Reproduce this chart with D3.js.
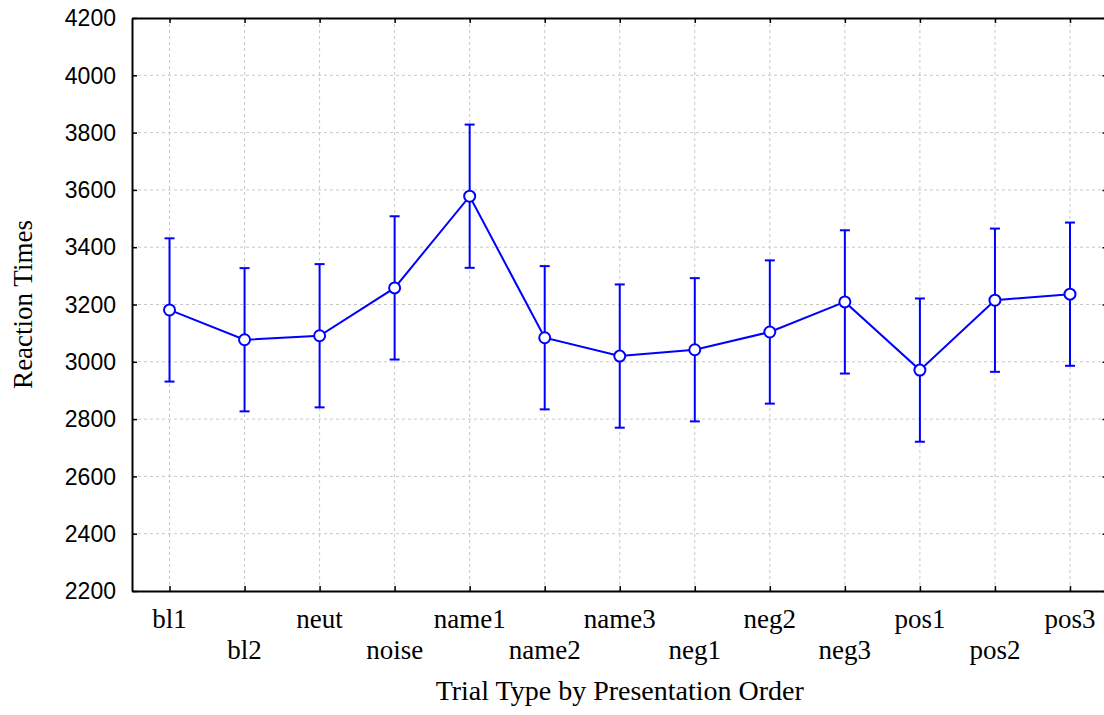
<!DOCTYPE html>
<html>
<head>
<meta charset="utf-8">
<script src="https://cdn.jsdelivr.net/npm/d3@7"></script>
<style>
  html, body { margin: 0; padding: 0; background: #fff; overflow: hidden; }
  .grid line { stroke: #c8c8c8; stroke-dasharray: 3,3; stroke-width: 1; }
</style>
</head>
<body>
<svg id="chart" width="1104" height="715"></svg>
<script>
// chart data
var categories = ["bl1", "bl2", "neut", "noise", "name1", "name2", "name3",
                  "neg1", "neg2", "neg3", "pos1", "pos2", "pos3"];
var means = [3181, 3077, 3091, 3258, 3578, 3084, 3020, 3042, 3104, 3209, 2971, 3215, 3236];
var errors = [250, 250, 250, 250, 250, 250, 250, 250, 250, 250, 250, 250, 250];
var yTicks = [2200, 2400, 2600, 2800, 3000, 3200, 3400, 3600, 3800, 4000, 4200];

var svg = d3.select("#chart");

// plot box (right edge runs just past the window, like the original)
var plotLeft = 132, plotRight = 1107.5, plotTop = 18, plotBottom = 591;

var x = d3.scalePoint()
  .domain(categories)
  .range([plotLeft, plotRight])
  .padding(0.5);

var y = d3.scaleLinear()
  .domain([2200, 4200])
  .range([plotBottom, plotTop]);

// dotted grid
var grid = svg.append("g").attr("class", "grid");
grid.selectAll("line.v")
  .data(categories)
  .enter().append("line")
  .attr("class", "v")
  .attr("x1", function(d) { return x(d); })
  .attr("x2", function(d) { return x(d); })
  .attr("y1", plotTop)
  .attr("y2", plotBottom);
grid.selectAll("line.h")
  .data(yTicks.slice(1, -1))
  .enter().append("line")
  .attr("class", "h")
  .attr("x1", plotLeft)
  .attr("x2", plotRight)
  .attr("y1", function(d) { return y(d); })
  .attr("y2", function(d) { return y(d); });

// axes: ticks point inward, labels drawn separately
function styleAxis(g) {
  g.selectAll("path").attr("stroke", "#000").attr("stroke-width", 2);
  g.selectAll("line").attr("stroke", "#000").attr("stroke-width", 1.5);
  g.selectAll("text").remove();
}

svg.append("g")
  .attr("transform", "translate(" + plotLeft + ",0)")
  .call(d3.axisRight(y).tickValues(yTicks).tickSize(5).tickSizeOuter(0))
  .call(styleAxis);
svg.append("g")
  .attr("transform", "translate(" + plotRight + ",0)")
  .call(d3.axisLeft(y).tickValues(yTicks).tickSize(5).tickSizeOuter(0))
  .call(styleAxis);
svg.append("g")
  .attr("transform", "translate(0," + plotBottom + ")")
  .call(d3.axisTop(x).tickSize(5).tickSizeOuter(0))
  .call(styleAxis);
svg.append("g")
  .attr("transform", "translate(0," + plotTop + ")")
  .call(d3.axisBottom(x).tickSize(5).tickSizeOuter(0))
  .call(styleAxis);

// y tick labels
svg.append("g").selectAll("text")
  .data(yTicks)
  .enter().append("text")
  .attr("x", 116)
  .attr("y", function(d) { return y(d); })
  .attr("dy", "0.36em")
  .attr("text-anchor", "end")
  .attr("font-family", "Liberation Sans, Arial, sans-serif")
  .attr("font-size", 23)
  .text(function(d) { return d; });

// x tick labels, staggered on two rows
svg.append("g").selectAll("text")
  .data(categories)
  .enter().append("text")
  .attr("x", function(d) { return x(d); })
  .attr("y", function(d, i) { return i % 2 === 0 ? 628 : 659; })
  .attr("text-anchor", "middle")
  .attr("font-family", "Liberation Serif, Times New Roman, serif")
  .attr("font-size", 27)
  .text(function(d) { return d; });

// axis titles
svg.append("text")
  .attr("x", (plotLeft + plotRight) / 2)
  .attr("y", 700)
  .attr("text-anchor", "middle")
  .attr("font-family", "Liberation Serif, Times New Roman, serif")
  .attr("font-size", 28)
  .text("Trial Type by Presentation Order");

svg.append("text")
  .attr("transform", "translate(32," + (plotTop + plotBottom) / 2 + ") rotate(-90)")
  .attr("text-anchor", "middle")
  .attr("font-family", "Liberation Serif, Times New Roman, serif")
  .attr("font-size", 27)
  .text("Reaction Times");

// error bars
var blue = "#0000ff";
var bars = svg.append("g")
  .attr("stroke", blue)
  .attr("stroke-width", 2);
categories.forEach(function(c, i) {
  var cx = x(c), hi = y(means[i] + errors[i]), lo = y(means[i] - errors[i]);
  bars.append("line").attr("x1", cx).attr("x2", cx).attr("y1", hi).attr("y2", lo);
  bars.append("line").attr("x1", cx - 5).attr("x2", cx + 5).attr("y1", hi).attr("y2", hi);
  bars.append("line").attr("x1", cx - 5).attr("x2", cx + 5).attr("y1", lo).attr("y2", lo);
});

// mean line
var line = d3.line()
  .x(function(d, i) { return x(categories[i]); })
  .y(function(d) { return y(d); });
svg.append("path")
  .datum(means)
  .attr("d", line)
  .attr("fill", "none")
  .attr("stroke", blue)
  .attr("stroke-width", 2);

// markers
svg.append("g").selectAll("circle")
  .data(means)
  .enter().append("circle")
  .attr("cx", function(d, i) { return x(categories[i]); })
  .attr("cy", function(d) { return y(d); })
  .attr("r", 5.5)
  .attr("fill", "#fff")
  .attr("stroke", blue)
  .attr("stroke-width", 2);
</script>
</body>
</html>
